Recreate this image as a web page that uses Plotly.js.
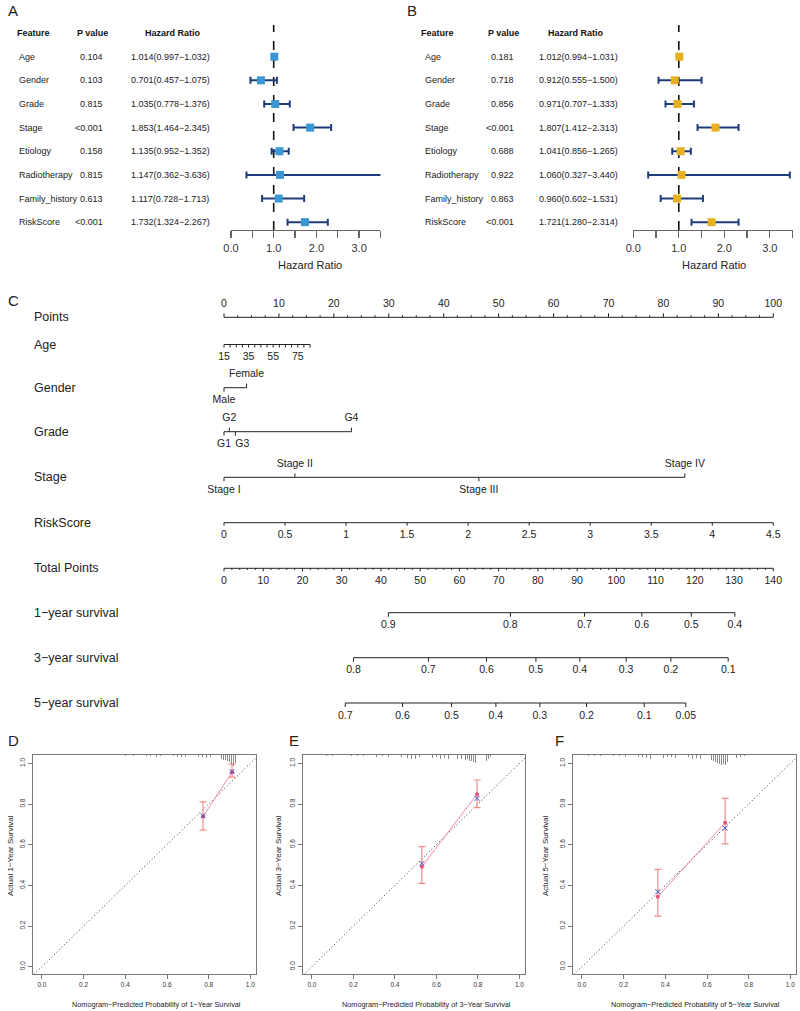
<!DOCTYPE html>
<html><head><meta charset="utf-8">
<script src="https://cdn.plot.ly/plotly-3.0.1.min.js"></script>
<style>body{margin:0;background:#fff}#chart{width:800px;height:1011px}</style>
</head><body><div id="chart"></div>
<script>
// ---------- DATA ----------
const features = ['Age','Gender','Grade','Stage','Etiology','Radiotherapy','Family_history','RiskScore'];
const pA  = ['0.104','0.103','0.815','<0.001','0.158','0.815','0.613','<0.001'];
const hrA = [1.014,0.701,1.035,1.853,1.135,1.147,1.117,1.732];
const loA = [0.997,0.457,0.778,1.464,0.952,0.362,0.728,1.324];
const hiA = [1.032,1.075,1.376,2.345,1.352,3.636,1.713,2.267];
const pB  = ['0.181','0.718','0.856','<0.001','0.688','0.922','0.863','<0.001'];
const hrB = [1.012,0.912,0.971,1.807,1.041,1.060,0.960,1.721];
const loB = [0.994,0.555,0.707,1.412,0.856,0.327,0.602,1.280];
const hiB = [1.031,1.500,1.333,2.313,1.265,3.440,1.531,2.314];
const hrTicks = [0,0.5,1,1.5,2,2.5,3,3.5];
const hrTickText = ['0.0','','1.0','','2.0','','3.0',''];

// nomogram
const pointsTicks = [0,10,20,30,40,50,60,70,80,90,100];
const ageTicks = [15,20,25,30,35,40,45,50,55,60,65,70,75,80,85];
const ageLabels = [15,35,55,75];
const ageRange = [15,85], agePtsRange = [0,15.66];
const genderLevels = ['Male','Female'], genderPts = [0,4.1];
const gradeLevels = ['G1','G2','G3','G4'], gradePts = [0,0.97,2.07,23.2];
const stageLevels = ['Stage I','Stage II','Stage III','Stage IV'], stagePts = [0,12.9,46.4,83.9];
const riskTicks = [0,0.5,1,1.5,2,2.5,3,3.5,4,4.5];
const riskMax = 4.5;           // RiskScore value worth 100 points
const totalTicks = [0,10,20,30,40,50,60,70,80,90,100,110,120,130,140];
const totalMax = 140;          // total points spanning the same width as 100 points
const surv1Vals = [0.9,0.8,0.7,0.6,0.5,0.4];
const surv1TP   = [41.9,73.0,91.9,106.5,119.1,130.2];
const surv3Vals = [0.8,0.7,0.6,0.5,0.4,0.3,0.2,0.1];
const surv3TP   = [33.0,52.1,66.9,79.5,90.7,102.5,113.9,128.5];
const surv5Vals = [0.7,0.6,0.5,0.4,0.3,0.2,0.1,0.05];
const surv5TP   = [30.9,45.5,58.0,69.3,80.5,92.4,107.1,117.7];

// calibration
const predD = [0.773,0.912], obsD = [0.739,0.956], loD = [0.672,0.932], hiD = [0.810,0.996], corrD = [0.742,0.960];
const predE = [0.530,0.796], obsE = [0.492,0.848], loE = [0.410,0.782], hiE = [0.590,0.918], corrE = [0.508,0.828];
const predF = [0.364,0.687], obsF = [0.344,0.708], loF = [0.249,0.604], hiF = [0.479,0.828], corrF = [0.369,0.681];
const calTicks = [0,0.2,0.4,0.6,0.8,1.0];
const calTickText = ['0.0','0.2','0.4','0.6','0.8','1.0'];
const rugDx = [0.37,0.40,0.44,0.47,0.50,0.52,0.55,0.57,0.59,0.61,0.63,0.65,0.67,0.69,0.71,0.73,0.75,0.77,0.79,0.81,0.83,0.84,0.85,0.86,0.87,0.88,0.89,0.90,0.91,0.92,0.93,0.94];
const rugDh = [0.004,0.004,0.006,0.004,0.006,0.005,0.008,0.006,0.008,0.010,0.006,0.008,0.010,0.008,0.012,0.010,0.012,0.008,0.014,0.012,0.016,0.020,0.016,0.022,0.026,0.024,0.030,0.036,0.045,0.054,0.040,0.018];
const rugEx = [0.07,0.10,0.13,0.16,0.19,0.22,0.25,0.28,0.31,0.34,0.37,0.40,0.43,0.46,0.48,0.50,0.52,0.54,0.56,0.58,0.60,0.62,0.64,0.66,0.68,0.70,0.72,0.74,0.75,0.76,0.77,0.78,0.79,0.80,0.81,0.82,0.83,0.84,0.85,0.86];
const rugEh = [0.004,0.003,0.005,0.004,0.004,0.006,0.005,0.004,0.008,0.006,0.010,0.008,0.012,0.016,0.020,0.018,0.012,0.014,0.010,0.016,0.012,0.020,0.016,0.018,0.014,0.022,0.020,0.026,0.022,0.030,0.028,0.034,0.040,0.046,0.050,0.042,0.036,0.030,0.020,0.008];
const rugFx = [0.00,0.03,0.06,0.09,0.12,0.15,0.18,0.21,0.24,0.27,0.29,0.31,0.33,0.35,0.37,0.39,0.41,0.43,0.45,0.47,0.49,0.51,0.53,0.55,0.57,0.59,0.61,0.62,0.63,0.64,0.65,0.66,0.67,0.68,0.69,0.70,0.71,0.72,0.74,0.76,0.78];
const rugFh = [0.003,0.004,0.003,0.005,0.004,0.006,0.005,0.008,0.006,0.010,0.012,0.016,0.020,0.018,0.012,0.014,0.010,0.012,0.016,0.010,0.014,0.012,0.018,0.016,0.020,0.014,0.022,0.026,0.030,0.034,0.040,0.046,0.050,0.044,0.048,0.036,0.030,0.022,0.014,0.008,0.004];

// ---------- LAYOUT HELPERS ----------
const fam = 'Liberation Sans, Arial, Helvetica, sans-serif';
const W = 800, H = 1011;
const px = v => v / W, py = v => 1 - v / H;
const traces = [];
const layout = {width:W, height:H, margin:{l:0,r:0,t:0,b:0}, paper_bgcolor:'#fff', plot_bgcolor:'rgba(0,0,0,0)',
  showlegend:false, font:{family:fam, color:'#222'}, annotations:[], shapes:[]};
const ann = (o) => layout.annotations.push(Object.assign({showarrow:false, font:{family:fam,size:12,color:'#222'}}, o));

// panel letters
[['A',13,11],['B',412,11],['C',13,300],['D',13,740],['E',294,740],['F',559,740]].forEach(([t,x,y]) =>
  ann({text:t, xref:'paper', yref:'paper', x:px(x), y:py(y), xanchor:'center', yanchor:'middle', font:{family:fam,size:15,color:'#222'}}));

// ---------- FOREST PLOTS ----------
const rows = features.map((_, i) => i);
const fmt = v => v.toFixed(3);
function forest(n, x0px, pxPerUnit, hr, lo, hi, pv, color, col) {
  const xa = n === 1 ? 'x' : 'x' + n, ya = n === 1 ? 'y' : 'y' + n;
  const xk = n === 1 ? 'xaxis' : 'xaxis' + n, yk = n === 1 ? 'yaxis' : 'yaxis' + n;
  layout[xk] = {domain:[px(x0px), px(x0px + 3.5 * pxPerUnit)], range:[0,3.5], anchor:ya,
    tickvals:hrTicks, ticktext:hrTickText, ticks:'outside', ticklen:7, tickwidth:1.3, tickcolor:'#666',
    showline:true, linecolor:'#666', linewidth:1.3, showgrid:false, zeroline:false,
    tickfont:{family:fam,size:11,color:'#333'}, fixedrange:true};
  layout[yk] = {domain:[py(230), py(25)], range:[7.33,-1.34], anchor:xa, visible:false, fixedrange:true};
  layout.shapes.push({type:'line', xref:xa, yref:ya + ' domain', x0:1, x1:1, y0:0, y1:1, layer:'below',
    line:{color:'#111', width:1.6, dash:'dash'}});
  traces.push({type:'scatter', mode:'markers', x:hr, y:rows, xaxis:xa, yaxis:ya, cliponaxis:false, hoverinfo:'skip',
    marker:{symbol:'square', size:8, color:color},
    error_x:{type:'data', symmetric:false, array:hi.map((v,i)=>v-hr[i]), arrayminus:lo.map((v,i)=>hr[i]-v),
      color:'#1F3C7A', thickness:2, width:3.5}});
  const hf = {family:fam, size:9, color:'#111'};
  ann({text:'<b>Feature</b>', xref:'paper', yref:ya, x:px(col.featHdr), y:-1, xanchor:'left', font:hf});
  ann({text:'<b>P value</b>', xref:'paper', yref:ya, x:px(col.pHdr), y:-1, xanchor:'center', font:hf});
  ann({text:'<b>Hazard Ratio</b>', xref:'paper', yref:ya, x:px(col.hrHdr), y:-1, xanchor:'center', font:hf});
  const tf = {family:fam, size:9, color:'#222'};
  features.forEach((f, i) => {
    ann({text:f, xref:'paper', yref:ya, x:px(col.feat), y:i, xanchor:'left', font:tf});
    ann({text:pv[i], xref:'paper', yref:ya, x:px(col.pRight), y:i, xanchor:'right', font:tf});
    ann({text:fmt(hr[i]) + '(' + fmt(lo[i]) + '\u2212' + fmt(hi[i]) + ')', xref:'paper', yref:ya, x:px(col.hrC), y:i, xanchor:'center', font:tf});
  });
  ann({text:'Hazard Ratio', xref:'paper', yref:'paper', x:px(col.title), y:py(265), xanchor:'center', yanchor:'middle',
    font:{family:fam,size:11,color:'#222'}});
}
forest(1, 231, 42.7, hrA, loA, hiA, pA, '#3A97D3', {featHdr:15, feat:16.5, pHdr:92, pRight:105, hrHdr:172.5, hrC:170.3, title:310});
forest(2, 633.3, 45.5, hrB, loB, hiB, pB, '#E5B120', {featHdr:419, feat:423.3, pHdr:503, pRight:516, hrHdr:575.5, hrC:578.8, title:714});

// ---------- NOMOGRAM ----------
const P0 = 224, PPP = 5.493; // pixel of 0 points, pixels per point
layout.xaxis3 = {domain:[0,1], range:[-P0/PPP, (W-P0)/PPP], anchor:'y3', visible:false, fixedrange:true};
layout.yaxis3 = {domain:[py(735), py(285)], range:[735,285], anchor:'x3', visible:false, fixedrange:true};
function scaleRow(rowY, ticks, labels, lineEnds) {
  const lx = [], ly = [];
  const xs = ticks.map(t => t.x);
  const a = lineEnds ? lineEnds[0] : Math.min(...xs), b = lineEnds ? lineEnds[1] : Math.max(...xs);
  lx.push(a, b, null); ly.push(rowY, rowY, null);
  ticks.forEach(t => { lx.push(t.x, t.x, null); ly.push(rowY, rowY + t.dir * t.len, null); });
  traces.push({type:'scatter', mode:'lines', x:lx, y:ly, xaxis:'x3', yaxis:'y3', line:{color:'#222', width:1},
    hoverinfo:'skip', cliponaxis:false});
  traces.push({type:'scatter', mode:'text', x:labels.map(l => l.x), y:labels.map(l => rowY + l.side * 13),
    text:labels.map(l => l.text), textposition:labels.map(l => l.pos || 'middle center'),
    textfont:{family:fam, size:10.5, color:'#222'},
    xaxis:'x3', yaxis:'y3', hoverinfo:'skip', cliponaxis:false});
}
function rowLabel(t, y) {
  ann({text:t, xref:'paper', yref:'y3', x:px(32), y:y, xanchor:'left', yanchor:'middle', font:{family:fam,size:12.5,color:'#222'}});
}
// Points
{
  const y = 317.3, t = [];
  for (let v = 0; v <= 100.001; v += 2.5) t.push({x:v, len:(v % 10 === 0 ? 4 : 2), dir:-1});
  scaleRow(y, t, pointsTicks.map(v => ({x:v, text:String(v), side:-1})));
  rowLabel('Points', y);
}
// Age
{
  const y = 344.5;
  const ap = v => agePtsRange[0] + (v - ageRange[0]) / (ageRange[1] - ageRange[0]) * (agePtsRange[1] - agePtsRange[0]);
  scaleRow(y, ageTicks.map(v => ({x:ap(v), len:3, dir:1})), ageLabels.map(v => ({x:ap(v), text:String(v), side:1})));
  rowLabel('Age', y);
}
// categorical rows (labels alternate below / above; a crowded label is set to the right of its tick)
function catRow(levels, pts, y, name) {
  const side = i => (i % 2 === 0 ? 1 : -1);
  const labels = levels.map((l, i) => {
    const o = {x:pts[i], text:l, side:side(i)};
    if (i >= 2 && (pts[i] - pts[i - 2]) * PPP < 14) o.pos = 'middle right';
    return o;
  });
  scaleRow(y, pts.map((p, i) => ({x:p, len:4, dir:side(i)})), labels);
  rowLabel(name, y);
}
catRow(genderLevels, genderPts, 387.7, 'Gender');
catRow(gradeLevels, gradePts, 431.7, 'Grade');
catRow(stageLevels, stagePts, 477.3, 'Stage');
// RiskScore
{
  const y = 522.7;
  scaleRow(y, riskTicks.map(v => ({x:v / riskMax * 100, len:3, dir:1})), riskTicks.map(v => ({x:v / riskMax * 100, text:String(v), side:1})));
  rowLabel('RiskScore', y);
}
// Total points
const tpx = v => v / totalMax * 100;
{
  const y = 568.3, t = [];
  for (let v = 0; v <= totalMax; v += 2) t.push({x:tpx(v), len:(v % 10 === 0 ? 3 : 1.6), dir:1});
  scaleRow(y, t, totalTicks.map(v => ({x:tpx(v), text:String(v), side:1})));
  rowLabel('Total Points', y);
}
function survRow(vals, tps, y, name) {
  scaleRow(y, tps.map(v => ({x:tpx(v), len:4, dir:1})), vals.map((v, i) => ({x:tpx(tps[i]), text:String(v), side:1})));
  rowLabel(name, y);
}
survRow(surv1Vals, surv1TP, 612.7, '1\u2212year survival');
survRow(surv3Vals, surv3TP, 657.7, '3\u2212year survival');
survRow(surv5Vals, surv5TP, 703.0, '5\u2212year survival');

// ---------- CALIBRATION ----------
function calib(n, xd, yr, pred, obs, lo, hi, corr, rugx, rugh, xTitleC, yTitleX) {
  const xa = 'x' + n, ya = 'y' + n;
  const common = {tickvals:calTicks, ticktext:calTickText, ticks:'outside', ticklen:4, tickcolor:'#777', tickwidth:1,
    showline:true, mirror:true, linecolor:'#777', linewidth:1, showgrid:false, zeroline:false,
    tickfont:{family:fam, size:6.5, color:'#333'}, fixedrange:true};
  layout['xaxis' + n] = Object.assign({domain:[px(xd[0]), px(xd[1])], range:[-0.043,1.027], anchor:ya}, common);
  layout['yaxis' + n] = Object.assign({domain:[py(974), py(755)], range:[-0.036,1.041], anchor:xa, tickangle:-90}, common);
  const top = 1.041;
  traces.push({type:'bar', x:rugx, y:rugh.map(h => -h), base:top, width:0.0035, xaxis:xa, yaxis:ya,
    marker:{color:'#8a8a8a', line:{width:0}}, hoverinfo:'skip'});
  traces.push({type:'scatter', mode:'lines', x:[-0.05,1.05], y:[-0.05,1.05], xaxis:xa, yaxis:ya,
    line:{color:'#333', width:1, dash:'1px,2.5px'}, hoverinfo:'skip'});
  traces.push({type:'scatter', mode:'lines', x:pred, y:obs, xaxis:xa, yaxis:ya, line:{color:'#F27AA2', width:0.9}, hoverinfo:'skip'});
  traces.push({type:'scatter', mode:'markers', x:pred, y:obs, xaxis:xa, yaxis:ya, hoverinfo:'skip',
    marker:{size:4, color:'#E8507E'},
    error_y:{type:'data', symmetric:false, array:hi.map((v,i)=>v-obs[i]), arrayminus:lo.map((v,i)=>obs[i]-v),
      color:'#F28C8C', thickness:1.2, width:3.5}});
  traces.push({type:'scatter', mode:'markers', x:pred, y:corr, xaxis:xa, yaxis:ya, hoverinfo:'skip',
    marker:{symbol:'x-thin-open', size:5, color:'#3A55C0', line:{width:1, color:'#3A55C0'}}});
  ann({text:'Nomogram\u2212Predicted Probability of ' + yr + '\u2212Year Survival', xref:'paper', yref:'paper',
    x:px(xTitleC), y:py(1004), xanchor:'center', yanchor:'middle', font:{family:fam, size:7.3, color:'#222'}});
  ann({text:'Actual ' + yr + '\u2212Year Survival', xref:'paper', yref:'paper', textangle:-90,
    x:px(yTitleX), y:py(856), xanchor:'center', yanchor:'middle', font:{family:fam, size:8, color:'#222'}});
}
calib(4, [33,256], 1, predD, obsD, loD, hiD, corrD, rugDx, rugDh, 156, 10);
calib(5, [303,525], 3, predE, obsE, loE, hiE, corrE, rugEx, rugEh, 426, 278);
calib(6, [573,796], 5, predF, obsF, loF, hiF, corrF, rugFx, rugFh, 695, 545);

layout.bargap = 0;
Plotly.newPlot('chart', traces.map(t => Object.assign({showlegend:false}, t)), layout, {staticPlot:true, displayModeBar:false});
</script>
</body></html>
